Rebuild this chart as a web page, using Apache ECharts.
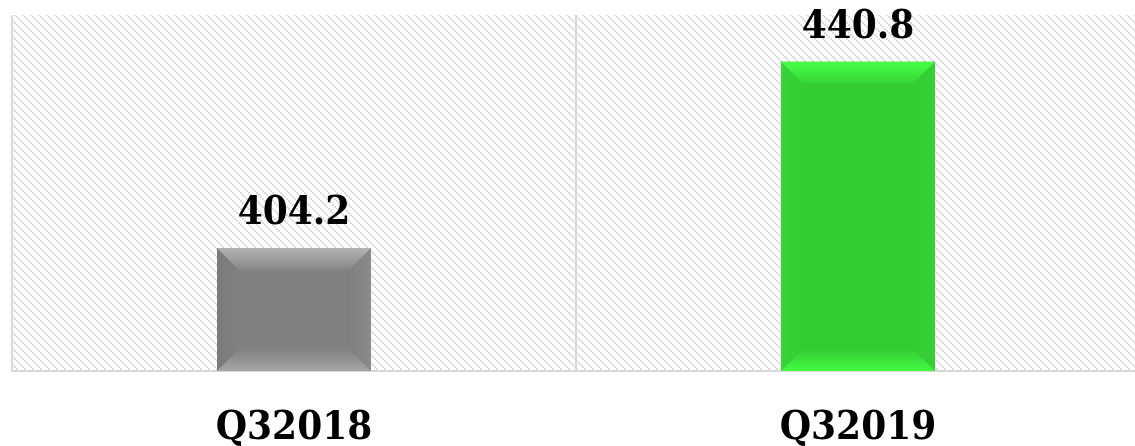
<!DOCTYPE html>
<html><head><meta charset="utf-8">
<script src="https://cdn.jsdelivr.net/npm/echarts@6/dist/echarts.min.js"></script>
<style>html,body{margin:0;padding:0;background:#fff}#c{width:1135px;height:446px}</style>
</head><body><div id="c"></div>
<script>
const categories = ['Q32018', 'Q32019'];
const values = [404.2, 440.8];
const palette = [
  {main:'#808080', top:'#b4b4b4', topIn:'#868686', bottom:'#a6a6a6', left:'#7b7b7b', right:'#8a8a8a'},
  {main:'#33cc33', top:'#48ff48', topIn:'#36d436', bottom:'#42fa42', left:'#38d438', right:'#36d036'}
];

// hatch pattern
const tile = document.createElement('canvas');
tile.width = 8; tile.height = 8;
const tc = tile.getContext('2d');
tc.fillStyle = '#ffffff'; tc.fillRect(0,0,8,8);
tc.fillStyle = '#dcdcdc';
for (let i = 0; i < 8; i += 2) { tc.fillRect(i, i, 2, 2); }

const chart = echarts.init(document.getElementById('c'));
const FONT = '"DejaVu Serif Condensed", "DejaVu Serif", serif';
chart.setOption({
  animation: false,
  grid: {left: 12, width: 1128, top: 15, bottom: 75, show: true, borderWidth: 0,
         outerBoundsMode: 'none', containLabel: false,
         backgroundColor: {image: tile, repeat: 'repeat'}},
  xAxis: {
    type: 'category', data: categories,
    axisLine: {show: true, lineStyle: {color: '#d9d9d9', width: 2}},
    axisTick: {show: false},
    splitLine: {show: true, lineStyle: {color: '#d9d9d9', width: 2}},
    axisLabel: {margin: 38, fontFamily: FONT, fontWeight: 'bold', fontSize: 40, color: '#000'}
  },
  yAxis: {type: 'value', min: 380, max: 450, show: false, splitLine: {show: false}},
  series: [{
    type: 'custom',
    data: values.map((v, i) => [i, v]),
    renderItem: function (params, api) {
      const i = api.value(0), v = api.value(1);
      const top = api.coord([i, v]);
      const base = api.coord([i, 380]);
      const w = api.size([1, 0])[0] * 0.273;
      const x0 = top[0] - w / 2, x1 = top[0] + w / 2, y0 = top[1], y1 = base[1];
      const b = 22;
      const p = palette[i];
      return {type: 'group', children: [
        {type: 'rect', shape: {x: x0, y: y0, width: w, height: y1 - y0}, style: {fill: p.main}},
        {type: 'polygon', shape: {points: [[x0, y0], [x0 + b, y0 + b], [x0 + b, y1 - b], [x0, y1]]},
          style: {fill: new echarts.graphic.LinearGradient(0, 0, 1, 0, [{offset: 0, color: p.left}, {offset: 1, color: p.main}])}},
        {type: 'polygon', shape: {points: [[x1, y0], [x1 - b, y0 + b], [x1 - b, y1 - b], [x1, y1]]},
          style: {fill: new echarts.graphic.LinearGradient(1, 0, 0, 0, [{offset: 0, color: p.right}, {offset: 1, color: p.main}])}},
        {type: 'polygon', shape: {points: [[x0, y0], [x1, y0], [x1 - b, y0 + b], [x0 + b, y0 + b]]},
          style: {fill: new echarts.graphic.LinearGradient(0, 0, 0, 1, [{offset: 0, color: p.top}, {offset: 1, color: p.topIn}])}},
        {type: 'polygon', shape: {points: [[x0, y1], [x1, y1], [x1 - b, y1 - b], [x0 + b, y1 - b]]},
          style: {fill: new echarts.graphic.LinearGradient(0, 1, 0, 0, [{offset: 0, color: p.bottom}, {offset: 1, color: p.main}])}},
        {type: 'text', style: {text: String(v), x: top[0], y: y0 - 14, align: 'center', verticalAlign: 'bottom',
          font: 'bold 40px ' + FONT, fill: '#000'}}
      ]};
    }
  }]
});
</script></body></html>
